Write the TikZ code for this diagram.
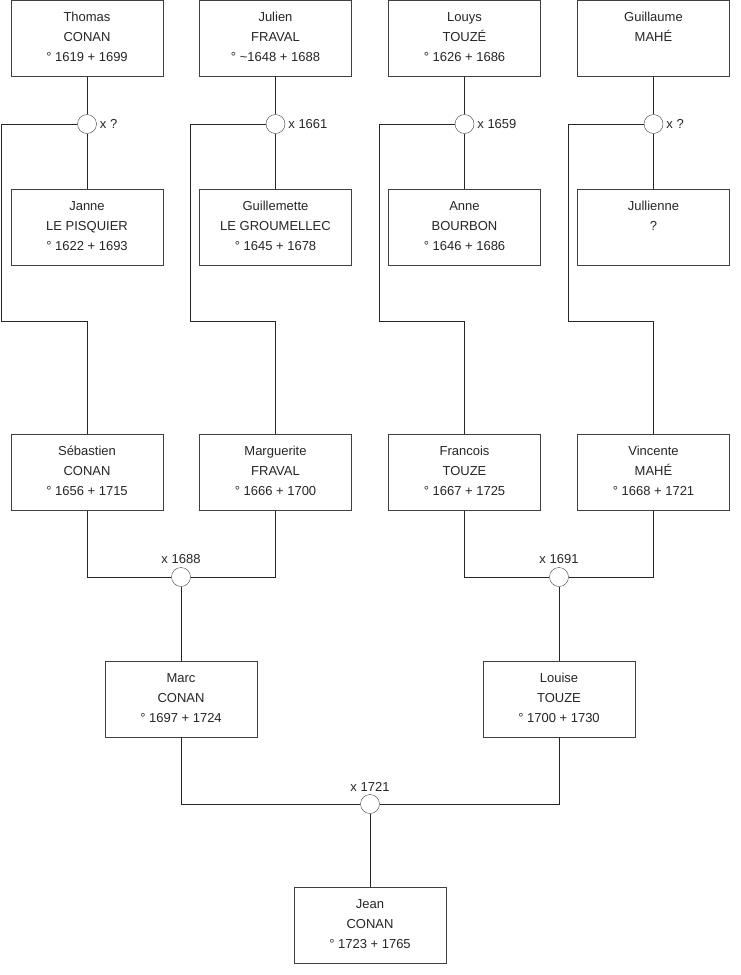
\documentclass[tikz,border=0pt]{standalone}
\usepackage{fontspec}
\setmainfont{Liberation Sans}
\usetikzlibrary{positioning}
\newcommand{\famtext}[3]{\rule{0pt}{16.5pt}#1\\#2\\#3\rule[-10.5pt]{0pt}{10.5pt}}

\begin{document}
\begin{tikzpicture}[
  x=1pt, y=-1pt,
  font=\fontsize{13}{20}\selectfont,
  person/.style={rectangle, draw=black!75, fill=white, minimum width=152pt, minimum height=76pt, align=center, inner sep=0pt, text=black!85},
  wedding/.style={circle, draw=black!75, fill=white, minimum size=19pt, inner sep=0pt},
  weddate/.style={inner sep=3pt, text=black!85},
  link/.style={draw=black!85, line width=0.8pt}
]
  \useasboundingbox (0,0) rectangle (740,975);
  % grandparents' parents
  \node[person] (thomas) at (87,38.5) {\famtext{Thomas}{CONAN}{° 1619 + 1699}};
  \node[person] (julien) at (275.5,38.5) {\famtext{Julien}{FRAVAL}{° \textasciitilde 1648 + 1688}};
  \node[person] (louys) at (464.5,38.5) {\famtext{Louys}{TOUZÉ}{° 1626 + 1686}};
  \node[person] (guillaume) at (653.5,38.5) {\famtext{Guillaume}{MAHÉ}{}};
  \node[person] (janne) at (87,227) {\famtext{Janne}{LE PISQUIER}{° 1622 + 1693}};
  \node[person] (guillemette) at (275.5,227) {\famtext{Guillemette}{LE GROUMELLEC}{° 1645 + 1678}};
  \node[person] (anne) at (464.5,227) {\famtext{Anne}{BOURBON}{° 1646 + 1686}};
  \node[person] (jullienne) at (653.5,227) {\famtext{Jullienne}{?}{}};
  % grandparents
  \node[person] (sebastien) at (87,472.5) {\famtext{Sébastien}{CONAN}{° 1656 + 1715}};
  \node[person] (marguerite) at (275.5,472.5) {\famtext{Marguerite}{FRAVAL}{° 1666 + 1700}};
  \node[person] (francois) at (464.5,472.5) {\famtext{Francois}{TOUZE}{° 1667 + 1725}};
  \node[person] (vincente) at (653.5,472.5) {\famtext{Vincente}{MAHÉ}{° 1668 + 1721}};
  % parents
  \node[person] (marc) at (181,699) {\famtext{Marc}{CONAN}{° 1697 + 1724}};
  \node[person] (louise) at (559,699) {\famtext{Louise}{TOUZE}{° 1700 + 1730}};
  \node[person] (jean) at (370,925) {\famtext{Jean}{CONAN}{° 1723 + 1765}};

  % marriages
  \node[wedding] (wedA) at (87,124) {};
  \node[wedding] (wedB) at (275.5,124) {};
  \node[wedding] (wedC) at (464.5,124) {};
  \node[wedding] (wedD) at (653.5,124) {};
  \node[wedding] (wedE) at (181,577) {};
  \node[wedding] (wedF) at (559,577) {};
  \node[wedding] (wedG) at (370,804) {};
  \node[weddate, anchor=west] (dateA) at (wedA.east) {x ?};
  \node[weddate, anchor=west] (dateB) at (wedB.east) {x 1661};
  \node[weddate, anchor=west] (dateC) at (wedC.east) {x 1659};
  \node[weddate, anchor=west] (dateD) at (wedD.east) {x ?};
  \node[weddate, anchor=south] (dateE) at (wedE.north) {x 1688};
  \node[weddate, anchor=south] (dateF) at (wedF.north) {x 1691};
  \node[weddate, anchor=south] (dateG) at (wedG.north) {x 1721};

  % couples
  \draw[link] (thomas) -- (wedA) -- (janne);
  \draw[link] (julien) -- (wedB) -- (guillemette);
  \draw[link] (louys) -- (wedC) -- (anne);
  \draw[link] (guillaume) -- (wedD) -- (jullienne);
  % children
  \draw[link] (wedA.west) -| (1,321) -| (sebastien.north);
  \draw[link] (wedB.west) -| (190,321) -| (marguerite.north);
  \draw[link] (wedC.west) -| (379,321) -| (francois.north);
  \draw[link] (wedD.west) -| (568,321) -| (vincente.north);
  \draw[link] (sebastien.south) |- (wedE.west);
  \draw[link] (marguerite.south) |- (wedE.east);
  \draw[link] (francois.south) |- (wedF.west);
  \draw[link] (vincente.south) |- (wedF.east);
  \draw[link] (wedE) -- (marc);
  \draw[link] (wedF) -- (louise);
  \draw[link] (marc.south) |- (wedG.west);
  \draw[link] (louise.south) |- (wedG.east);
  \draw[link] (wedG) -- (jean);
\end{tikzpicture}
\end{document}
